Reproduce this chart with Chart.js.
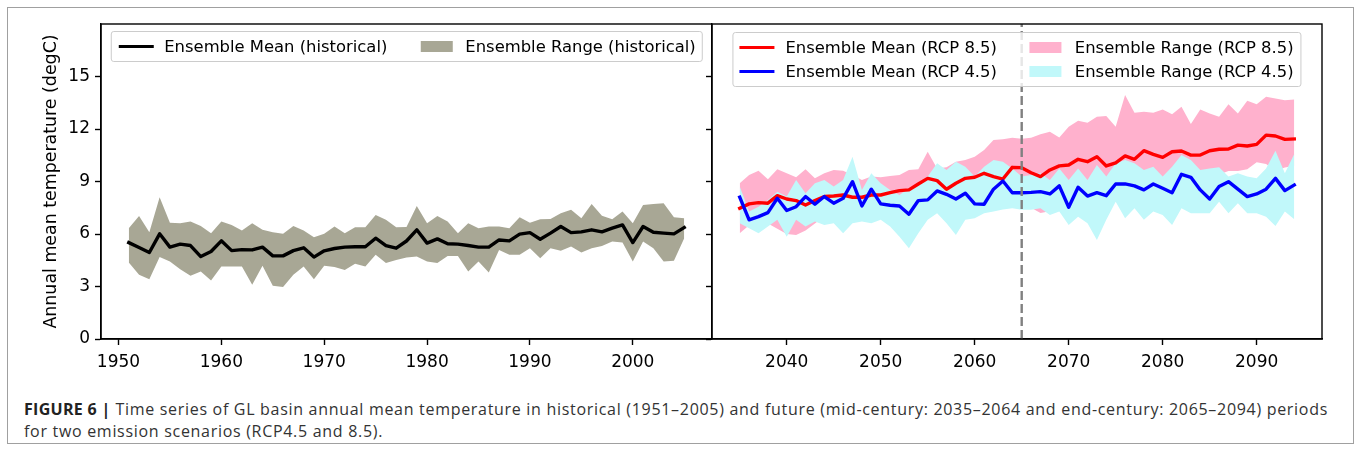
<!DOCTYPE html>
<html>
<head>
<meta charset="utf-8">
<script src="https://cdn.jsdelivr.net/npm/chart.js@4.4.1/dist/chart.umd.min.js"></script>
<style>
  html, body { margin: 0; padding: 0; background: #fff; }
  #fig { position: relative; width: 1358px; height: 453px; overflow: hidden; }
  #frame { position: absolute; left: 7px; top: 7px; width: 1347px; height: 437px; border: 1.5px solid #a0a0a0; box-sizing: border-box; }
  canvas { position: absolute; top: 0; }
  #cLeft { left: 0; }
  #cRight { left: 690px; }
  .legend { position: absolute; transform: translateX(-50%); background: rgba(255,255,255,0.8);
    border: 1px solid #cccccc; border-radius: 3px; padding: 2.5px 6.5px 2.5px 6.5px;
    font: 16.4px 'DejaVu Sans', sans-serif; color: #000; display: grid; grid-auto-flow: column;
    column-gap: 33px; white-space: nowrap; line-height: 24px; z-index: 5; }
  .item { display: flex; align-items: center; }
  .hline { display: inline-block; width: 35px; height: 3.4px; margin-right: 11px; }
  .hpatch { display: inline-block; width: 32px; height: 11px; margin-right: 13px; }
  #caption { position: absolute; left: 24px; top: 398px; font: 16px 'Open Sans', sans-serif; color: #333;
    letter-spacing: 0.7px; line-height: 22px; white-space: nowrap; }
  #caption b { color: #222; letter-spacing: 0.3px; }
</style>
</head>
<body>
<div id="fig">
  <div id="frame"></div>
  <canvas id="cLeft" width="712" height="380"></canvas>
  <canvas id="cRight" width="660" height="380"></canvas>
  <div id="legLeft" class="legend" style="left:407px; top:31px; grid-template-rows: auto;"></div>
  <div id="legRight" class="legend" style="left:1016.5px; top:32px; grid-template-rows: auto auto;"></div>
  <div id="caption"><b>FIGURE 6 |</b> Time series of GL basin annual mean temperature in historical (1951–2005) and future (mid-century: 2035–2064 and end-century: 2065–2094) periods<br>for two emission scenarios (RCP4.5 and 8.5).</div>
</div>
<script>
// ---- data ----
const histYears = [1951,1952,1953,1954,1955,1956,1957,1958,1959,1960,1961,1962,1963,1964,1965,1966,1967,1968,1969,1970,
  1971,1972,1973,1974,1975,1976,1977,1978,1979,1980,1981,1982,1983,1984,1985,1986,1987,1988,1989,1990,
  1991,1992,1993,1994,1995,1996,1997,1998,1999,2000,2001,2002,2003,2004,2005];
const histMean = [5.51,5.23,4.94,6.01,5.25,5.42,5.34,4.71,5.00,5.61,5.05,5.11,5.09,5.25,4.75,4.75,5.05,5.21,4.68,5.04,
  5.17,5.25,5.27,5.27,5.76,5.34,5.19,5.60,6.24,5.48,5.72,5.44,5.42,5.34,5.25,5.25,5.66,5.61,5.99,6.08,
  5.70,6.05,6.43,6.08,6.12,6.24,6.12,6.33,6.52,5.51,6.43,6.10,6.05,6.01,6.37];
const histMax = [6.33,7.03,6.10,8.10,6.65,6.62,6.71,6.46,6.05,6.71,6.52,6.20,6.62,6.24,6.10,6.01,6.46,6.20,5.82,6.01,
  6.43,6.05,6.39,6.39,7.09,6.81,6.39,6.40,7.60,6.62,7.03,6.71,6.05,6.62,6.33,6.43,6.43,6.33,6.96,6.65,
  6.84,6.86,7.19,7.38,6.90,7.72,7.05,6.84,7.28,6.62,7.66,7.72,7.76,6.96,6.90];
const histMin = [4.37,3.67,3.42,4.68,4.43,3.99,3.61,3.86,3.34,4.14,4.14,4.14,3.10,4.18,3.04,2.97,3.67,4.14,3.42,4.18,
  4.11,3.95,4.30,4.14,4.81,4.34,4.52,4.66,4.71,4.43,4.34,4.75,4.75,3.86,4.43,3.80,5.09,4.81,4.81,5.19,
  4.62,5.19,5.04,5.28,4.94,5.19,5.32,5.57,5.51,4.43,5.57,5.19,4.43,4.47,5.76];

const futYears = [2035,2036,2037,2038,2039,2040,2041,2042,2043,2044,2045,2046,2047,2048,2049,2050,2051,2052,2053,2054,
  2055,2056,2057,2058,2059,2060,2061,2062,2063,2064,2065,2066,2067,2068,2069,2070,2071,2072,2073,2074,
  2075,2076,2077,2078,2079,2080,2081,2082,2083,2084,2085,2086,2087,2088,2089,2090,2091,2092,2093,2094];
const rcp85Mean = [7.47,7.72,7.79,7.76,8.19,8.00,7.91,7.66,7.91,8.14,8.17,8.23,8.10,8.10,8.23,8.23,8.36,8.48,8.52,8.86,
  9.18,9.05,8.56,8.90,9.18,9.24,9.47,9.28,9.14,9.81,9.79,9.50,9.28,9.66,9.89,9.94,10.27,10.13,10.42,9.89,
  10.07,10.46,10.27,10.76,10.55,10.38,10.70,10.74,10.51,10.51,10.76,10.84,10.86,11.08,11.03,11.12,11.65,11.60,11.41,11.43];
const rcp85Max = [8.90,9.37,9.62,9.13,9.70,9.47,9.24,9.70,9.18,9.47,9.66,9.62,9.37,9.09,9.28,9.24,9.32,9.37,9.66,9.70,
  10.70,9.75,9.81,10.13,10.23,10.42,10.80,11.37,11.41,11.50,11.45,11.50,11.70,11.84,11.52,12.13,12.47,12.36,12.70,12.74,
  12.13,13.94,12.93,12.98,12.93,13.12,12.85,13.27,12.28,13.12,12.89,12.70,13.42,12.89,13.61,13.42,13.84,13.75,13.65,13.69];
const rcp85Min = [6.05,6.50,6.90,6.60,6.30,6.00,5.95,6.20,6.60,7.00,7.20,7.10,7.40,7.30,7.50,7.50,7.30,7.60,7.70,7.60,
  7.80,7.90,7.70,8.00,7.90,7.80,7.60,7.40,7.50,7.70,7.70,7.50,7.20,7.30,7.60,8.20,8.40,8.30,8.60,8.50,
  8.80,8.90,8.70,8.80,8.90,9.10,9.30,9.20,9.50,9.40,9.30,9.40,9.60,9.60,9.70,10.10,10.00,9.60,9.80,9.90];
const rcp45Mean = [8.10,6.81,6.99,7.22,8.04,7.34,7.56,8.14,7.70,8.14,7.76,8.04,8.99,7.60,8.56,7.72,7.64,7.60,7.13,7.91,
  7.95,8.46,8.27,8.00,8.33,7.72,7.70,8.56,9.03,8.36,8.36,8.38,8.42,8.29,8.75,7.53,8.67,8.17,8.36,8.19,
  8.86,8.86,8.75,8.52,8.86,8.61,8.36,9.41,9.24,8.52,8.00,8.71,8.99,8.56,8.14,8.29,8.56,9.18,8.48,8.80];
const rcp45Max = [8.71,7.28,7.56,7.95,8.42,8.14,9.09,8.33,8.90,9.09,8.71,9.09,10.42,8.52,9.47,8.90,8.52,8.23,8.61,8.90,
  9.28,10.04,9.66,10.13,9.85,9.28,9.85,10.23,10.13,9.75,9.28,9.37,9.47,9.09,9.75,9.09,9.75,9.09,9.94,9.28,
  10.04,10.23,10.04,9.66,9.85,9.28,9.85,10.51,10.23,9.66,9.75,9.81,9.28,9.47,9.28,9.18,9.75,10.76,9.47,10.57];
const rcp45Min = [6.62,6.33,6.05,6.43,6.81,5.85,6.81,6.43,6.71,6.52,6.62,6.05,6.62,6.71,6.62,6.81,6.43,5.85,5.19,6.05,
  6.81,7.19,6.62,5.95,6.81,6.90,7.19,7.28,7.40,7.47,7.38,7.38,7.47,7.09,7.28,6.52,6.99,6.62,5.66,6.81,
  7.85,6.90,7.47,6.81,7.28,7.09,6.52,7.47,7.19,7.19,7.19,7.85,7.19,7.76,7.19,7.19,6.99,6.46,7.28,6.84];

const splitYear = 2065;
const yTicks = [0, 3, 6, 9, 12, 15];
const yMax = 18;
const histTicks = [1950, 1960, 1970, 1980, 1990, 2000];
const futTicks = [2040, 2050, 2060, 2070, 2080, 2090];

const colHist = '#a8a795';
const colPink = '#ffb1cd';
const colCyan = '#c1f8fa';

// ---- helpers ----
Chart.defaults.font.family = "'DejaVu Sans', sans-serif";
Chart.defaults.font.size = 17;
Chart.defaults.color = '#000';

function pts(xs, ys) { return xs.map((x, i) => ({ x: x, y: ys[i] })); }

function axisStyle() {
  return {
    grid: { display: true, drawOnChartArea: false, drawTicks: true, tickLength: 6, tickWidth: 1.4, tickColor: '#000' },
    border: { display: true, color: '#000', width: 1.4 }
  };
}

function xScale(years, ticks) {
  const span = years[years.length - 1] - years[0];
  return Object.assign({
    type: 'linear',
    min: years[0] - 0.05 * span,
    max: years[years.length - 1] + 0.05 * span,
    afterBuildTicks: s => { s.ticks = ticks.map(v => ({ value: v })); },
    afterFit: s => { s.height = 41; },
    ticks: { padding: 7, maxRotation: 0, autoSkip: false, callback: v => String(v) }
  }, axisStyle());
}

function yScale(showLabels) {
  const sc = Object.assign({
    min: 0, max: yMax,
    afterBuildTicks: s => { s.ticks = yTicks.map(v => ({ value: v })); },
    afterFit: s => { s.width = showLabels ? 101 : 22; },
    ticks: { display: showLabels, padding: 5, autoSkip: false, callback: v => String(v) }
  }, axisStyle());
  if (showLabels) {
    sc.title = { display: true, text: 'Annual mean temperature (degC)', font: { size: 17.4 }, padding: { top: 41, bottom: 0 } };
  }
  return sc;
}

function band(xs, lo, hi, color, order) {
  return [
    { label: '', data: pts(xs, lo), borderColor: 'rgba(0,0,0,0)', borderWidth: 0, fill: false, order: order },
    { label: '', data: pts(xs, hi), borderColor: 'rgba(0,0,0,0)', borderWidth: 0, backgroundColor: color, fill: '-1', order: order }
  ];
}

function meanLine(xs, ys, color, order) {
  return { label: '', data: pts(xs, ys), borderColor: color, borderWidth: 3.4, fill: false, order: order,
    borderJoinStyle: 'round', borderCapStyle: 'square' };
}

const boxFrame = {
  id: 'boxFrame',
  afterDatasetsDraw(chart) {
    const a = chart.chartArea, ctx = chart.ctx;
    ctx.save();
    ctx.strokeStyle = '#000';
    ctx.lineWidth = 1.4;
    ctx.strokeRect(a.left, a.top, a.right - a.left, a.bottom - a.top);
    ctx.restore();
  }
};

const splitLine = {
  id: 'splitLine',
  afterDatasetsDraw(chart) {
    const a = chart.chartArea, ctx = chart.ctx;
    const x = chart.scales.x.getPixelForValue(splitYear);
    ctx.save();
    ctx.strokeStyle = '#808080';
    ctx.lineWidth = 2.4;
    ctx.setLineDash([9, 4]);
    ctx.beginPath();
    ctx.moveTo(x, a.bottom);
    ctx.lineTo(x, a.top);
    ctx.stroke();
    ctx.restore();
  }
};

const common = {
  responsive: false,
  animation: false,
  elements: { point: { radius: 0 }, line: { tension: 0 } },
  plugins: { legend: { display: false }, tooltip: { enabled: false } }
};

// ---- historical panel ----
new Chart(document.getElementById('cLeft'), {
  type: 'line',
  data: {
    datasets: band(histYears, histMin, histMax, colHist, 2)
      .concat([meanLine(histYears, histMean, '#000', 0)])
  },
  options: Object.assign({}, common, {
    layout: { padding: { top: 24, right: 0, left: 0, bottom: 0 } },
    scales: { x: xScale(histYears, histTicks), y: yScale(true) }
  }),
  plugins: [boxFrame]
});

// ---- future panel ----
new Chart(document.getElementById('cRight'), {
  type: 'line',
  data: {
    datasets: band(futYears, rcp85Min, rcp85Max, colPink, 3)
      .concat(band(futYears, rcp45Min, rcp45Max, colCyan, 2))
      .concat([meanLine(futYears, rcp85Mean, '#ff0000', 1), meanLine(futYears, rcp45Mean, '#0000ff', 0)])
  },
  options: Object.assign({}, common, {
    layout: { padding: { top: 24, right: 28, left: 0, bottom: 0 } },
    scales: { x: xScale(futYears, futTicks), y: yScale(false) }
  }),
  plugins: [splitLine, boxFrame]
});

// ---- legends (html, drawn over the axes like matplotlib's) ----
function legend(el, items) {
  el.innerHTML = items.map(it =>
    '<div class="item"><span class="' + (it.kind === 'line' ? 'hline' : 'hpatch') +
    '" style="background:' + it.color + '"></span>' + it.text + '</div>').join('');
}
legend(document.getElementById('legLeft'), [
  { kind: 'line', color: '#000', text: 'Ensemble Mean (historical)' },
  { kind: 'patch', color: colHist, text: 'Ensemble Range (historical)' }
]);
legend(document.getElementById('legRight'), [
  { kind: 'line', color: '#ff0000', text: 'Ensemble Mean (RCP 8.5)' },
  { kind: 'line', color: '#0000ff', text: 'Ensemble Mean (RCP 4.5)' },
  { kind: 'patch', color: colPink, text: 'Ensemble Range (RCP 8.5)' },
  { kind: 'patch', color: colCyan, text: 'Ensemble Range (RCP 4.5)' }
]);
</script>
</body>
</html>
